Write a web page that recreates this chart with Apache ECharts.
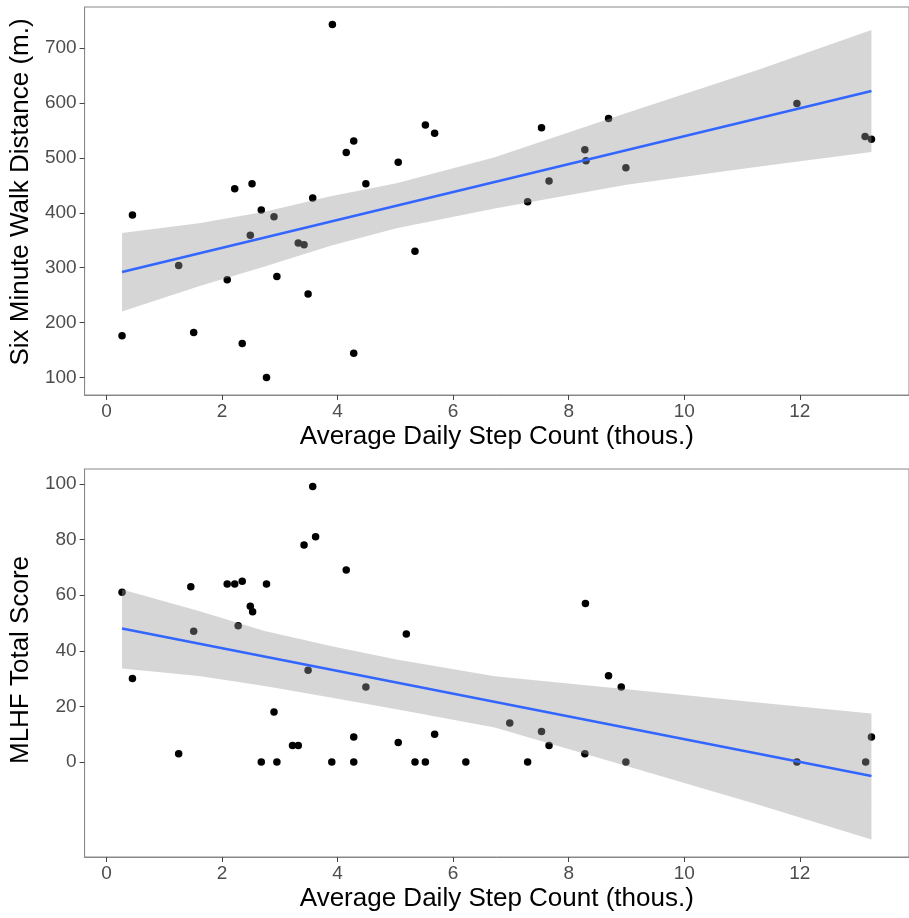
<!DOCTYPE html>
<html>
<head>
<meta charset="utf-8">
<script src="https://cdn.jsdelivr.net/npm/echarts@6/dist/echarts.min.js"></script>
<style>
  html, body { margin: 0; padding: 0; background: #fff; }
  #main { width: 909px; height: 918px; }
</style>
</head>
<body>
<div id="main"></div>
<script>
// top panel: six minute walk vs steps
const walkSteps = [0.27, 0.45, 1.25, 1.51, 2.09, 2.22, 2.35, 2.49, 2.52, 2.68, 2.77, 2.90, 2.95,
  3.32, 3.42, 3.49, 3.57, 3.91, 4.15, 4.28, 4.28, 4.49, 5.05, 5.34, 5.52, 5.68,
  7.29, 7.53, 7.66, 8.28, 8.30, 8.69, 8.99, 11.95, 13.13, 13.24];
const walkDist = [176, 396, 304, 182, 278, 444, 162, 359, 453, 405, 100, 393, 284,
  345, 342, 252, 427, 743, 510, 531, 144, 453, 492, 330, 560, 545,
  420, 555, 458, 515, 495, 572, 482, 599, 539, 534];

// bottom panel: MLHF score vs steps
const mlhfSteps = [0.27, 0.45, 1.25, 1.46, 1.51, 2.09, 2.22, 2.28, 2.35, 2.49, 2.53, 2.68, 2.77,
  2.90, 2.95, 3.22, 3.32, 3.42, 3.49, 3.57, 3.62, 3.90, 4.15, 4.28, 4.28, 4.49,
  5.05, 5.19, 5.34, 5.52, 5.68, 6.22, 6.98, 7.29, 7.53, 7.66, 8.29, 8.28, 8.69,
  8.91, 8.99, 11.95, 13.14, 13.24];
const mlhfScore = [61, 30, 3, 63, 47, 64, 64, 49, 65, 56, 54, 0, 64,
  18, 0, 6, 6, 78, 33, 99, 81, 0, 69, 9, 0, 27,
  7, 46, 0, 0, 10, 0, 14, 0, 11, 6, 57, 3, 31,
  27, 0, 0, 0, 9];

// fitted lines and confidence bands
const fitSteps = [0.27, 13.24];
const walkFit = [292, 622];
const mlhfFit = [48, -5];

const bandSteps = [0.27, 1.6, 2.74, 3.88, 5.02, 6.72, 9.0, 11.27, 13.24];
const walkUpper = [363, 381, 402, 430, 454, 501, 582, 660, 733];
const walkLower = [220, 266, 302, 340, 372, 408, 451, 484, 511];
const mlhfUpper = [62, 54.3, 47.1, 41.7, 36.9, 30.8, 26.2, 21.4, 17.5];
const mlhfLower = [33.6, 30.9, 27.3, 23.2, 19.0, 12.4, -1.4, -15.2, -27.8];

const xTicks = [0, 2, 4, 6, 8, 10, 12];
const walkTicks = [100, 200, 300, 400, 500, 600, 700];
const mlhfTicks = [0, 20, 40, 60, 80, 100];

const font = 'Liberation Sans';
const zip = (xs, ys) => xs.map((x, i) => [x, ys[i]]);

function bandRender(upper, lower) {
  return function (params, api) {
    const pts = [];
    bandSteps.forEach((x, i) => pts.push(api.coord([x, upper[i]])));
    for (let i = bandSteps.length - 1; i >= 0; i--) pts.push(api.coord([bandSteps[i], lower[i]]));
    return {
      type: 'polygon',
      shape: { points: pts },
      style: { fill: 'rgba(153,153,153,0.4)' }
    };
  };
}

function xAxis(idx) {
  return {
    type: 'value', gridIndex: idx, min: -0.378, max: 13.89,
    name: 'Average Daily Step Count (thous.)', nameLocation: 'middle', nameGap: 29,
    nameTextStyle: { fontFamily: font, fontSize: 26, color: '#000' },
    axisLine: { show: true, onZero: false, lineStyle: { color: '#888', width: 1 } },
    axisTick: { show: true, length: 5, lineStyle: { color: '#444' }, customValues: xTicks },
    axisLabel: { fontFamily: font, fontSize: 19, color: '#4d4d4d', margin: 7, customValues: xTicks },
    splitLine: { show: false }
  };
}

function yAxis(idx, name, min, max, ticks, pad) {
  return {
    type: 'value', gridIndex: idx, min: min, max: max,
    name: name, nameLocation: 'middle', nameGap: 44,
    nameTextStyle: { fontFamily: font, fontSize: 26, color: '#000', padding: [0, 0, 0, pad] },
    axisLine: { show: true, onZero: false, lineStyle: { color: '#888', width: 1 } },
    axisTick: { show: true, length: 5, lineStyle: { color: '#444' }, customValues: ticks },
    axisLabel: { fontFamily: font, fontSize: 19, color: '#4d4d4d', margin: 8, customValues: ticks },
    splitLine: { show: false }
  };
}

const chart = echarts.init(document.getElementById('main'));
const option = {
  animation: false,
  backgroundColor: '#fff',
  grid: [
    { left: 84, top: 7, width: 837, height: 388, show: true, borderColor: '#888', borderWidth: 1 },
    { left: 84, top: 469, width: 837, height: 388, show: true, borderColor: '#888', borderWidth: 1 }
  ],
  xAxis: [xAxis(0), xAxis(1)],
  yAxis: [
    yAxis(0, 'Six Minute Walk Distance (m.)', 68, 775, walkTicks, 18),
    yAxis(1, 'MLHF Total Score', -34.1, 105.3, mlhfTicks, 6)
  ],
  series: [
    {
      type: 'scatter', xAxisIndex: 0, yAxisIndex: 0, z: 2,
      symbolSize: 7.5, itemStyle: { color: '#000', opacity: 1 },
      data: zip(walkSteps, walkDist)
    },
    {
      type: 'custom', xAxisIndex: 0, yAxisIndex: 0, z: 3, silent: true,
      renderItem: bandRender(walkUpper, walkLower),
      data: [[fitSteps[0], walkFit[0]]]
    },
    {
      type: 'line', xAxisIndex: 0, yAxisIndex: 0, z: 4, symbol: 'none',
      lineStyle: { color: '#3366FF', width: 2.5 },
      data: zip(fitSteps, walkFit)
    },
    {
      type: 'scatter', xAxisIndex: 1, yAxisIndex: 1, z: 2,
      symbolSize: 7.5, itemStyle: { color: '#000', opacity: 1 },
      data: zip(mlhfSteps, mlhfScore)
    },
    {
      type: 'custom', xAxisIndex: 1, yAxisIndex: 1, z: 3, silent: true,
      renderItem: bandRender(mlhfUpper, mlhfLower),
      data: [[fitSteps[0], mlhfFit[0]]]
    },
    {
      type: 'line', xAxisIndex: 1, yAxisIndex: 1, z: 4, symbol: 'none',
      lineStyle: { color: '#3366FF', width: 2.5 },
      data: zip(fitSteps, mlhfFit)
    }
  ]
};
chart.setOption(option);
</script>
</body>
</html>
